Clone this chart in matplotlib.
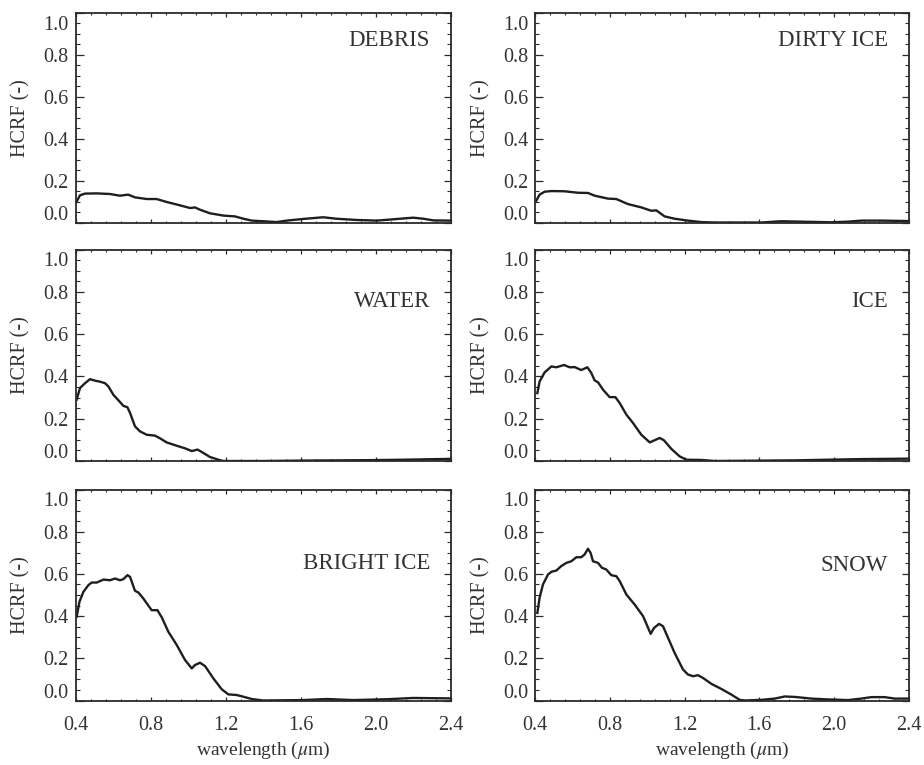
import matplotlib
matplotlib.use("Agg")
import matplotlib.pyplot as plt
from matplotlib.ticker import MultipleLocator, FixedLocator
from matplotlib.transforms import ScaledTranslation

# ---------------- data ----------------
wl_debris = [0.405, 0.423, 0.45, 0.512, 0.583, 0.636, 0.68, 0.716, 0.779, 0.832, 0.885, 0.956,
             1.01, 1.036, 1.063, 1.116, 1.188, 1.25, 1.294, 1.339, 1.4, 1.472, 1.525, 1.614,
             1.72, 1.79, 1.899, 2.005, 2.076, 2.2, 2.254, 2.308, 2.396]
hcrf_debris = [0.10, 0.13, 0.138, 0.139, 0.136, 0.128, 0.133, 0.12, 0.112, 0.112, 0.098, 0.082,
               0.069, 0.072, 0.061, 0.044, 0.033, 0.029, 0.018, 0.009, 0.006, 0.002, 0.009, 0.017,
               0.025, 0.018, 0.012, 0.009, 0.014, 0.023, 0.018, 0.010, 0.009]

wl_dirty = [0.405, 0.423, 0.45, 0.486, 0.557, 0.629, 0.682, 0.718, 0.789, 0.834, 0.896, 0.968,
            1.021, 1.048, 1.093, 1.146, 1.218, 1.289, 1.36, 1.61, 1.718, 1.825, 1.986, 2.075,
            2.146, 2.254, 2.396]
hcrf_dirty = [0.104, 0.133, 0.147, 0.15, 0.149, 0.142, 0.141, 0.128, 0.114, 0.112, 0.088, 0.072,
              0.056, 0.058, 0.029, 0.018, 0.009, 0.002, 0.0, 0.0, 0.006, 0.004, 0.001, 0.004,
              0.009, 0.009, 0.007]

wl_water = [0.405, 0.423, 0.45, 0.476, 0.503, 0.53, 0.556, 0.574, 0.601, 0.628, 0.654, 0.676,
            0.69, 0.716, 0.743, 0.779, 0.823, 0.85, 0.885, 0.939, 0.983, 1.019, 1.05, 1.081,
            1.116, 1.161, 1.188, 1.4, 1.614, 1.97, 2.147, 2.396]
hcrf_water = [0.29, 0.345, 0.368, 0.387, 0.38, 0.375, 0.368, 0.353, 0.313, 0.287, 0.261, 0.254,
              0.227, 0.164, 0.14, 0.124, 0.12, 0.107, 0.088, 0.072, 0.06, 0.047, 0.054, 0.038,
              0.019, 0.006, 0.0, 0.0, 0.002, 0.004, 0.006, 0.010]

wl_ice = [0.411, 0.423, 0.45, 0.486, 0.512, 0.554, 0.584, 0.611, 0.646, 0.661, 0.679, 0.70,
          0.718, 0.736, 0.763, 0.798, 0.829, 0.852, 0.888, 0.923, 0.968, 1.013, 1.039, 1.066,
          1.089, 1.129, 1.173, 1.209, 1.289, 1.36, 1.789, 2.146, 2.396]
hcrf_ice = [0.321, 0.376, 0.419, 0.447, 0.443, 0.454, 0.443, 0.444, 0.43, 0.436, 0.443, 0.416,
            0.381, 0.372, 0.337, 0.302, 0.302, 0.274, 0.219, 0.18, 0.124, 0.088, 0.098, 0.109,
            0.098, 0.057, 0.022, 0.006, 0.005, 0.0, 0.003, 0.009, 0.011]

wl_bright = [0.405, 0.42, 0.441, 0.468, 0.485, 0.512, 0.548, 0.583, 0.61, 0.636, 0.654, 0.676,
             0.69, 0.716, 0.734, 0.761, 0.805, 0.836, 0.859, 0.894, 0.939, 0.983, 1.019, 1.036,
             1.063, 1.09, 1.134, 1.179, 1.214, 1.259, 1.294, 1.339, 1.4, 1.614, 1.739, 1.88,
             2.059, 2.2, 2.396]
hcrf_bright = [0.397, 0.468, 0.515, 0.547, 0.559, 0.559, 0.573, 0.57, 0.578, 0.57, 0.575, 0.594,
               0.586, 0.52, 0.512, 0.483, 0.428, 0.428, 0.394, 0.326, 0.263, 0.192, 0.152, 0.168,
               0.179, 0.163, 0.105, 0.053, 0.029, 0.026, 0.018, 0.007, 0.0, 0.002, 0.007, 0.002,
               0.006, 0.012, 0.010]

wl_snow = [0.411, 0.423, 0.441, 0.468, 0.486, 0.513, 0.539, 0.566, 0.593, 0.62, 0.646, 0.664,
           0.682, 0.696, 0.709, 0.736, 0.757, 0.78, 0.807, 0.834, 0.852, 0.888, 0.932, 0.977,
           1.018, 1.036, 1.063, 1.084, 1.111, 1.146, 1.191, 1.218, 1.245, 1.271, 1.298, 1.343,
           1.396, 1.45, 1.495, 1.521, 1.611, 1.682, 1.736, 1.789, 1.879, 1.968, 2.075, 2.146,
           2.2, 2.271, 2.325, 2.396]
hcrf_snow = [0.415, 0.487, 0.55, 0.597, 0.61, 0.616, 0.637, 0.652, 0.66, 0.679, 0.679, 0.692,
             0.719, 0.70, 0.66, 0.652, 0.629, 0.621, 0.594, 0.589, 0.566, 0.502, 0.455, 0.40,
             0.316, 0.344, 0.363, 0.352, 0.297, 0.226, 0.147, 0.123, 0.115, 0.12, 0.107, 0.079,
             0.055, 0.028, 0.003, 0.0, 0.003, 0.009, 0.019, 0.017, 0.009, 0.005, 0.002, 0.009,
             0.016, 0.016, 0.009, 0.009]

names = ["DEBRIS", "DIRTY ICE", "WATER", "ICE", "BRIGHT ICE", "SNOW"]
label_y = [0.87, 0.87, 0.755, 0.755, 0.65, 0.64]
series = [(wl_debris, hcrf_debris), (wl_dirty, hcrf_dirty), (wl_water, hcrf_water),
          (wl_ice, hcrf_ice), (wl_bright, hcrf_bright), (wl_snow, hcrf_snow)]
x_ticks = [0.4, 0.8, 1.2, 1.6, 2.0, 2.4]
x_ticklabels = ["0.4", "0.8", "1.2", "1.6", "2.0", "2.4"]
y_ticks = [0.0, 0.2, 0.4, 0.6, 0.8, 1.0]
y_ticklabels = ["0.0", "0.2", "0.4", "0.6", "0.8", "1.0"]

# ---------------- style ----------------
plt.rcParams['font.family'] = ['Liberation Serif', 'DejaVu Serif']
plt.rcParams['mathtext.fontset'] = 'stix'
TXT = '#333333'
LINE = '#1e1e1e'

W, H = 924, 765
fig = plt.figure(figsize=(W / 100, H / 100), dpi=100)

col_px = [(75.7, 450.7), (535.3, 908.7)]
row_px = [(13.0, 222.5), (249.5, 461.0), (489.5, 700.5)]

for i, (name, (wl, val)) in enumerate(zip(names, series)):
    r, c = divmod(i, 2)
    (x0, x1), (y0, y1) = col_px[c], row_px[r]
    ax = fig.add_axes([x0 / W, 1 - y1 / H, (x1 - x0) / W, (y1 - y0) / H])
    ax.plot(wl, val, color=LINE, lw=1.7, solid_joinstyle='round')
    ax.set_xlim(0.4, 2.4)
    ax.set_ylim(0.0, 1.0)
    ax.xaxis.set_major_locator(FixedLocator(x_ticks))
    ax.xaxis.set_minor_locator(MultipleLocator(0.08))
    ax.yaxis.set_major_locator(FixedLocator(y_ticks))
    ax.yaxis.set_minor_locator(MultipleLocator(0.05))
    ax.set_yticklabels(y_ticklabels)
    if r == 2:
        ax.set_xticklabels(x_ticklabels)
        ax.set_xlabel(r'wavelength ($\mu$m)', fontsize=14, color=TXT)
        ax.xaxis.set_label_coords(0.5, -0.185)
    else:
        ax.set_xticklabels([])
    for s in ax.spines.values():
        s.set_linewidth(1.3)
        s.set_color('#2a2a2a')
    ax.tick_params(axis='both', which='both', direction='in', top=True, right=True,
                   color='#2a2a2a', labelcolor=TXT, labelsize=14.5)
    ax.tick_params(axis='x', which='major', length=3.2, width=0.9, pad=11)
    ax.tick_params(axis='x', which='minor', length=1.6, width=0.8)
    ax.tick_params(axis='y', which='major', length=5.4, width=0.9, pad=5)
    ax.tick_params(axis='y', which='minor', length=2.7, width=0.8)
    ax.set_ylabel('HCRF (-)', fontsize=14.5, color=TXT)
    ax.yaxis.set_label_coords(-0.12, 0.5)
    ax.text(2.29, label_y[i], name, ha='right', va='center', fontsize=16.5, color=TXT)
    # end labels of the y axis sit slightly inside the frame, as in the reference
    ticks = ax.yaxis.get_major_ticks()
    off_up = ScaledTranslation(0, 0.10, fig.dpi_scale_trans)
    off_dn = ScaledTranslation(0, -0.10, fig.dpi_scale_trans)
    ticks[0].label1.set_transform(ticks[0].label1.get_transform() + off_up)
    ticks[-1].label1.set_transform(ticks[-1].label1.get_transform() + off_dn)

fig.savefig('out.png', dpi=100, facecolor='white')
